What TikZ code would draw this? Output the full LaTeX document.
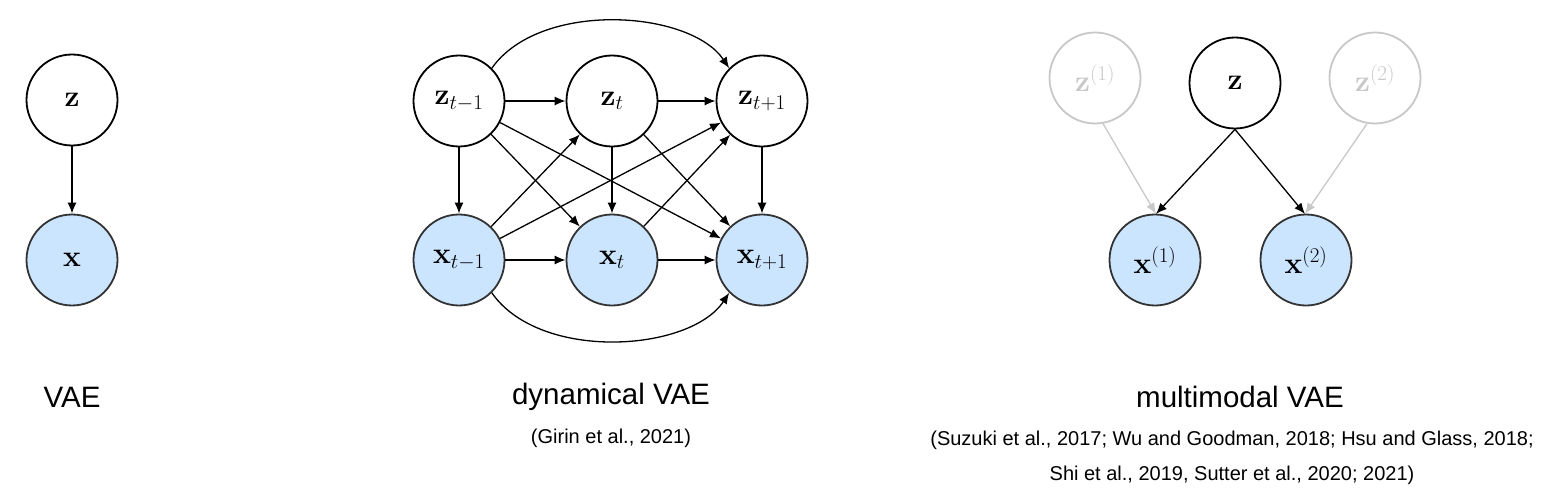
\documentclass[tikz,border=0pt]{standalone}
\usepackage{fix-cm}
\usepackage{amsmath}
\usepackage[no-math]{fontspec}
\setmainfont{Liberation Sans}
\usetikzlibrary{arrows.meta}
\definecolor{obsfill}{HTML}{CCE5FF}
\definecolor{obsdraw}{HTML}{333333}
\definecolor{ghost}{HTML}{C8C8C8}
\begin{document}
\begin{tikzpicture}[x=1pt,y=-1pt,
  latent/.style={circle,draw=black,line width=1.8pt,fill=white,minimum size=91pt,inner sep=0pt,font=\fontsize{30}{36}\selectfont},
  observed/.style={latent,draw=obsdraw,fill=obsfill},
  ghostnode/.style={latent,draw=ghost,text=ghost},
  edge/.style={-{Latex[length=11pt,width=9pt]},line width=1.3pt,black},
  ghostedge/.style={edge,ghost},
  title/.style={font=\fontsize{29.5}{35}\selectfont},
  cite/.style={font=\fontsize{20}{24}\selectfont}]
\useasboundingbox (0,0) rectangle (1542,492);
% VAE
\node[latent] (z) at (72,100) {$\mathbf{z}$};
\node[observed] (x) at (72,260) {$\mathbf{x}$};
\draw[edge] (z) -- (x);
\node[title] (t1) at (72,397) {VAE};
% dynamical VAE
\node[latent] (z1) at (459,101) {$\mathbf{z}_{t-1}$};
\node[latent] (z2) at (612,101) {$\mathbf{z}_{t}$};
\node[latent] (z3) at (762,101) {$\mathbf{z}_{t+1}$};
\node[observed] (x1) at (459,260) {$\mathbf{x}_{t-1}$};
\node[observed] (x2) at (612,260) {$\mathbf{x}_{t}$};
\node[observed] (x3) at (762,260) {$\mathbf{x}_{t+1}$};
\draw[edge] (z1) -- (z2);
\draw[edge] (z2) -- (z3);
\draw[edge] (x1) -- (x2);
\draw[edge] (x2) -- (x3);
\draw[edge] (z1) -- (x1);
\draw[edge] (z2) -- (x2);
\draw[edge] (z3) -- (x3);
\draw[edge] (z1) -- (x2);
\draw[edge] (z1) -- (x3);
\draw[edge] (z2) -- (x3);
\draw[edge] (x1) -- (z2);
\draw[edge] (x1) -- (z3);
\draw[edge] (x2) -- (z3);
\draw[edge] (z1.45) .. controls (540,0) and (690,10) .. (z3.135);
\draw[edge] (x1.-45) .. controls (540,362) and (690,352) .. (x3.-135);
\node[title] (t2) at (611,397) {dynamical VAE};
\node[cite] (c2) at (611,438) {(Girin et al., 2021)};
% multimodal VAE
\node[ghostnode] (za) at (1095,78) {$\mathbf{z}^{(1)}$};
\node[latent] (zm) at (1235,83) {$\mathbf{z}$};
\node[ghostnode] (zb) at (1375,78) {$\mathbf{z}^{(2)}$};
\node[observed] (xa) at (1155,260) {$\mathbf{x}^{(1)}$};
\node[observed] (xb) at (1306,260) {$\mathbf{x}^{(2)}$};
\coordinate (xatop) at (1156,214);
\coordinate (xbtop) at (1305,214);
\draw[ghostedge] (za.-80) -- (xatop);
\draw[ghostedge] (zb.-100) -- (xbtop);
\draw[edge] (zm.south) -- (xatop);
\draw[edge] (zm.south) -- (xbtop);
\node[title] (t3) at (1240,397) {multimodal VAE};
\node[cite] (c3a) at (1232,440) {(Suzuki et al., 2017; Wu and Goodman, 2018; Hsu and Glass, 2018;};
\node[cite] (c3b) at (1232,475) {Shi et al., 2019, Sutter et al., 2020; 2021)};
\end{tikzpicture}
\end{document}
